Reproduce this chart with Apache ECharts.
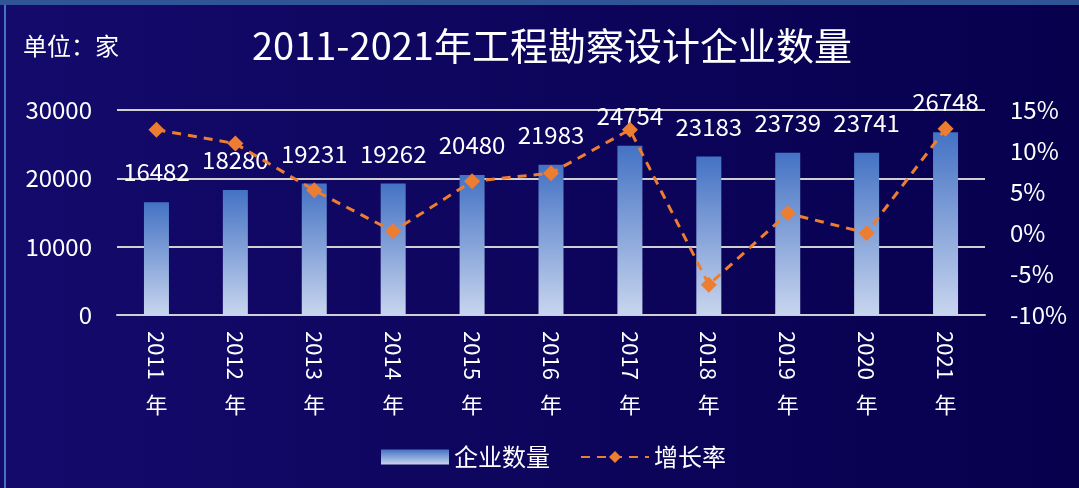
<!DOCTYPE html>
<html>
<head>
<meta charset="utf-8">
<script src="https://cdn.jsdelivr.net/npm/echarts@6/dist/echarts.min.js"></script>
<style>
    html, body { margin: 0; padding: 0; background: #0c0560; }
    #frame { position: absolute; left: 0; top: 0; width: 1079px; height: 488px; }
    #main { width: 1079px; height: 488px; }
    #edgeTop { position: absolute; left: 0; top: 0; width: 1079px; height: 5px; background: #2f5597; }
    #edgeLeft { position: absolute; left: 4px; top: 5px; width: 2px; height: 483px; background: #4472c4; }
</style>
</head>
<body>
<div id="frame">
    <div id="main"></div>
    <div id="edgeTop"></div>
    <div id="edgeLeft"></div>
</div>
<script>
    // 年份
    var years = ['2011', '2012', '2013', '2014', '2015', '2016', '2017', '2018', '2019', '2020', '2021'];
    // 企业数量（家）
    var companyCount = [16482, 18280, 19231, 19262, 20480, 21983, 24754, 23183, 23739, 23741, 26748];
    // 增长率（%）
    var growthRate = [12.6, 10.9, 5.2, 0.2, 6.3, 7.3, 12.6, -6.3, 2.4, 0.0, 12.7];

    var fontName = '"Noto Sans CJK SC", "Noto Sans", sans-serif';

    var myChart = echarts.init(document.getElementById('main'));
    var option = {
        backgroundColor: new echarts.graphic.LinearGradient(0, 0, 1, 0, [
            { offset: 0, color: '#140a6c' },
            { offset: 1, color: '#07004d' }
        ]),
        textStyle: { fontFamily: fontName },
        title: {
            text: '2011-2021年工程勘察设计企业数量',
            left: 247,
            top: 22,
            textStyle: { color: '#ffffff', fontSize: 38, fontWeight: 'normal', fontFamily: fontName }
        },
        graphic: [{
            type: 'text',
            left: 23,
            top: 34,
            style: { text: '单位：家', fill: '#ffffff', font: '24px ' + fontName }
        }],
        legend: {
            left: 376,
            top: 440,
            itemWidth: 68,
            itemHeight: 15,
            itemGap: 30,
            textStyle: { color: '#ffffff', fontSize: 24, fontFamily: fontName },
            data: [{ name: '企业数量', icon: 'rect' }, { name: '增长率' }]
        },
        grid: { left: 117, right: 94, top: 110, bottom: 173 },
        xAxis: [
            {
                type: 'category',
                data: years,
                axisLine: { lineStyle: { color: '#d0d0d0', width: 2 } },
                axisTick: { show: false },
                axisLabel: { color: '#ffffff', fontSize: 22, rotate: -90, margin: 16, fontFamily: fontName }
            },
            {
                type: 'category',
                position: 'bottom',
                data: years,
                axisLine: { show: false },
                axisTick: { show: false },
                axisLabel: {
                    color: '#ffffff', fontSize: 22, margin: 79, fontFamily: fontName,
                    formatter: function () { return '年'; }
                }
            }
        ],
        yAxis: [
            {
                type: 'value',
                min: 0,
                max: 30000,
                interval: 10000,
                axisLine: { show: false },
                axisTick: { show: false },
                axisLabel: {
                    color: '#ffffff', fontSize: 24, margin: 25, fontFamily: fontName,
                    formatter: function (v) { return String(v); }
                },
                splitLine: { lineStyle: { color: '#d0d0d0', width: 2 } }
            },
            {
                type: 'value',
                min: -10,
                max: 15,
                interval: 5,
                axisLine: { show: false },
                axisTick: { show: false },
                axisLabel: { color: '#ffffff', fontSize: 24, margin: 25, formatter: '{value}%', fontFamily: fontName },
                splitLine: { show: false }
            }
        ],
        series: [
            {
                name: '企业数量',
                type: 'bar',
                barWidth: 25,
                data: companyCount,
                itemStyle: {
                    color: new echarts.graphic.LinearGradient(0, 0, 0, 1, [
                        { offset: 0, color: '#4472c4' },
                        { offset: 1, color: '#c8d5ee' }
                    ])
                },
                label: {
                    show: true,
                    position: 'top',
                    distance: 18,
                    color: '#ffffff',
                    fontSize: 24,
                    fontFamily: fontName
                }
            },
            {
                name: '增长率',
                type: 'line',
                yAxisIndex: 1,
                data: growthRate,
                symbol: 'diamond',
                symbolSize: 16,
                z: 5,
                itemStyle: { color: '#ed7d31' },
                lineStyle: { color: '#ed7d31', width: 3, type: [9, 7] }
            }
        ]
    };
    myChart.setOption(option);
</script>
</body>
</html>
